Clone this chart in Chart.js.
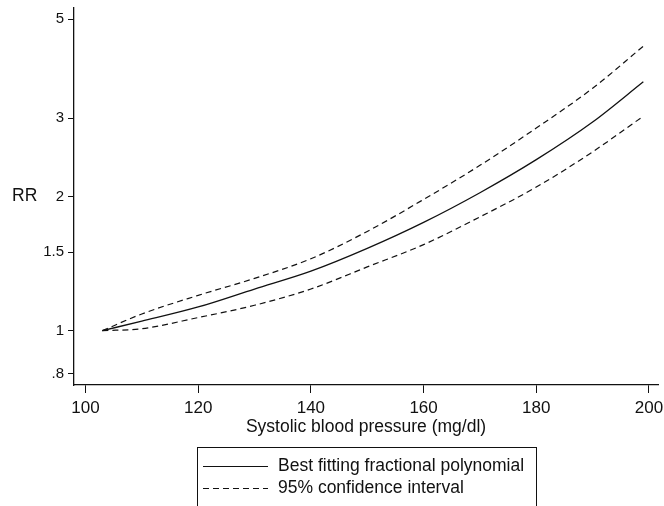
<!DOCTYPE html>
<html lang="en">
<head>
  <meta charset="UTF-8">
  <title>RR by systolic blood pressure</title>
  <script src="https://cdn.jsdelivr.net/npm/chart.js"></script>
  <style>
    html, body { margin: 0; padding: 0; background: #fff; }
    #wrap { width: 664px; height: 506px; }
  </style>
</head>
<body>
  <div id="wrap"><canvas id="chart" width="664" height="506"></canvas></div>
  <script>
    // values
    const sbp = [103, 110, 120, 130, 140, 150, 160, 170, 180, 190, 199];
    const bestFit = [1.00, 1.05, 1.13, 1.24, 1.36, 1.53, 1.75, 2.04, 2.42, 2.94, 3.62];
    const upperCI = [1.00, 1.09, 1.20, 1.31, 1.45, 1.67, 1.97, 2.35, 2.85, 3.50, 4.35];
    const lowerCI = [1.00, 1.01, 1.07, 1.14, 1.24, 1.39, 1.56, 1.80, 2.10, 2.52, 3.03];
    const yTicks = [0.8, 1, 1.5, 2, 3, 5];
    const yTickLabels = ['.8', '1', '1.5', '2', '3', '5'];
    const xTicks = [100, 120, 140, 160, 180, 200];

    const FONT = "'Liberation Sans', Arial, sans-serif";
    const INK = '#111';

    const pts = (ys) => sbp.map((x, i) => ({ x: x, y: ys[i] }));

    // draws "RR" and the boxed legend underneath the axis title
    const extras = {
      id: 'extras',
      afterDraw(chart) {
        const c = chart.ctx;
        c.save();
        c.fillStyle = INK;
        c.font = '17.5px ' + FONT;
        c.textBaseline = 'middle';
        c.textAlign = 'left';
        c.fillText('RR', 12, chart.scales.y.getPixelForValue(2));

        // legend box
        c.strokeStyle = INK;
        c.lineWidth = 1;
        c.strokeRect(197.5, 447.5, 339, 70);
        const rows = [466.5, 488.5];
        chart.data.datasets.slice(0, 2).forEach((ds, i) => {
          c.beginPath();
          c.setLineDash(ds.borderDash || []);
          c.lineWidth = 1.2;
          c.moveTo(203, rows[i]);
          c.lineTo(268, rows[i]);
          c.stroke();
          c.setLineDash([]);
          c.fillText(ds.label, 278, rows[i]);
        });
        c.restore();
      }
    };

    const ctx = document.getElementById('chart').getContext('2d');
    const chart = new Chart(ctx, {
      type: 'line',
      data: {
        datasets: [
          {
            label: 'Best fitting fractional polynomial',
            data: pts(bestFit),
            borderColor: INK,
            borderWidth: 1.3,
            pointRadius: 0,
            cubicInterpolationMode: 'monotone',
          },
          {
            label: '95% confidence interval',
            data: pts(upperCI),
            borderColor: INK,
            borderWidth: 1.2,
            borderDash: [6, 4],
            pointRadius: 0,
            cubicInterpolationMode: 'monotone',
          },
          {
            label: '95% confidence interval (lower)',
            data: pts(lowerCI),
            borderColor: INK,
            borderWidth: 1.2,
            borderDash: [6, 4],
            pointRadius: 0,
            cubicInterpolationMode: 'monotone',
          },
        ],
      },
      options: {
        responsive: false,
        animation: false,
        layout: { padding: { left: 0, right: 6, top: 8, bottom: 66 } },
        plugins: { legend: { display: false }, tooltip: { enabled: false } },
        scales: {
          x: {
            type: 'linear',
            min: 97.96,
            max: 201.6,
            afterBuildTicks: (s) => { s.ticks = xTicks.map(v => ({ value: v })); },
            afterFit: (s) => { s.height = 55; s.paddingLeft = 0; s.paddingRight = 0; },
            grid: { drawOnChartArea: false, tickLength: 8, color: INK },
            border: { color: INK, width: 1.3 },
            ticks: { color: INK, font: { family: FONT, size: 17 }, padding: 5, maxRotation: 0 },
            title: {
              display: true,
              text: 'Systolic blood pressure (mg/dl)',
              color: INK,
              font: { family: FONT, size: 17.5 },
              padding: { top: 0, bottom: 2 },
            },
          },
          y: {
            type: 'logarithmic',
            min: 0.755,
            max: 5.30,
            afterBuildTicks: (s) => { s.ticks = yTicks.map(v => ({ value: v })); },
            afterFit: (s) => { s.width = 74; s.paddingTop = 0; s.paddingBottom = 0; },
            grid: { drawOnChartArea: false, tickLength: 6, color: INK },
            border: { color: INK, width: 1.3 },
            ticks: {
              color: INK,
              font: { family: FONT, size: 15 },
              padding: 4,
              callback: (v) => yTickLabels[yTicks.indexOf(v)],
            },
          },
        },
      },
      plugins: [extras],
    });
  </script>
</body>
</html>
